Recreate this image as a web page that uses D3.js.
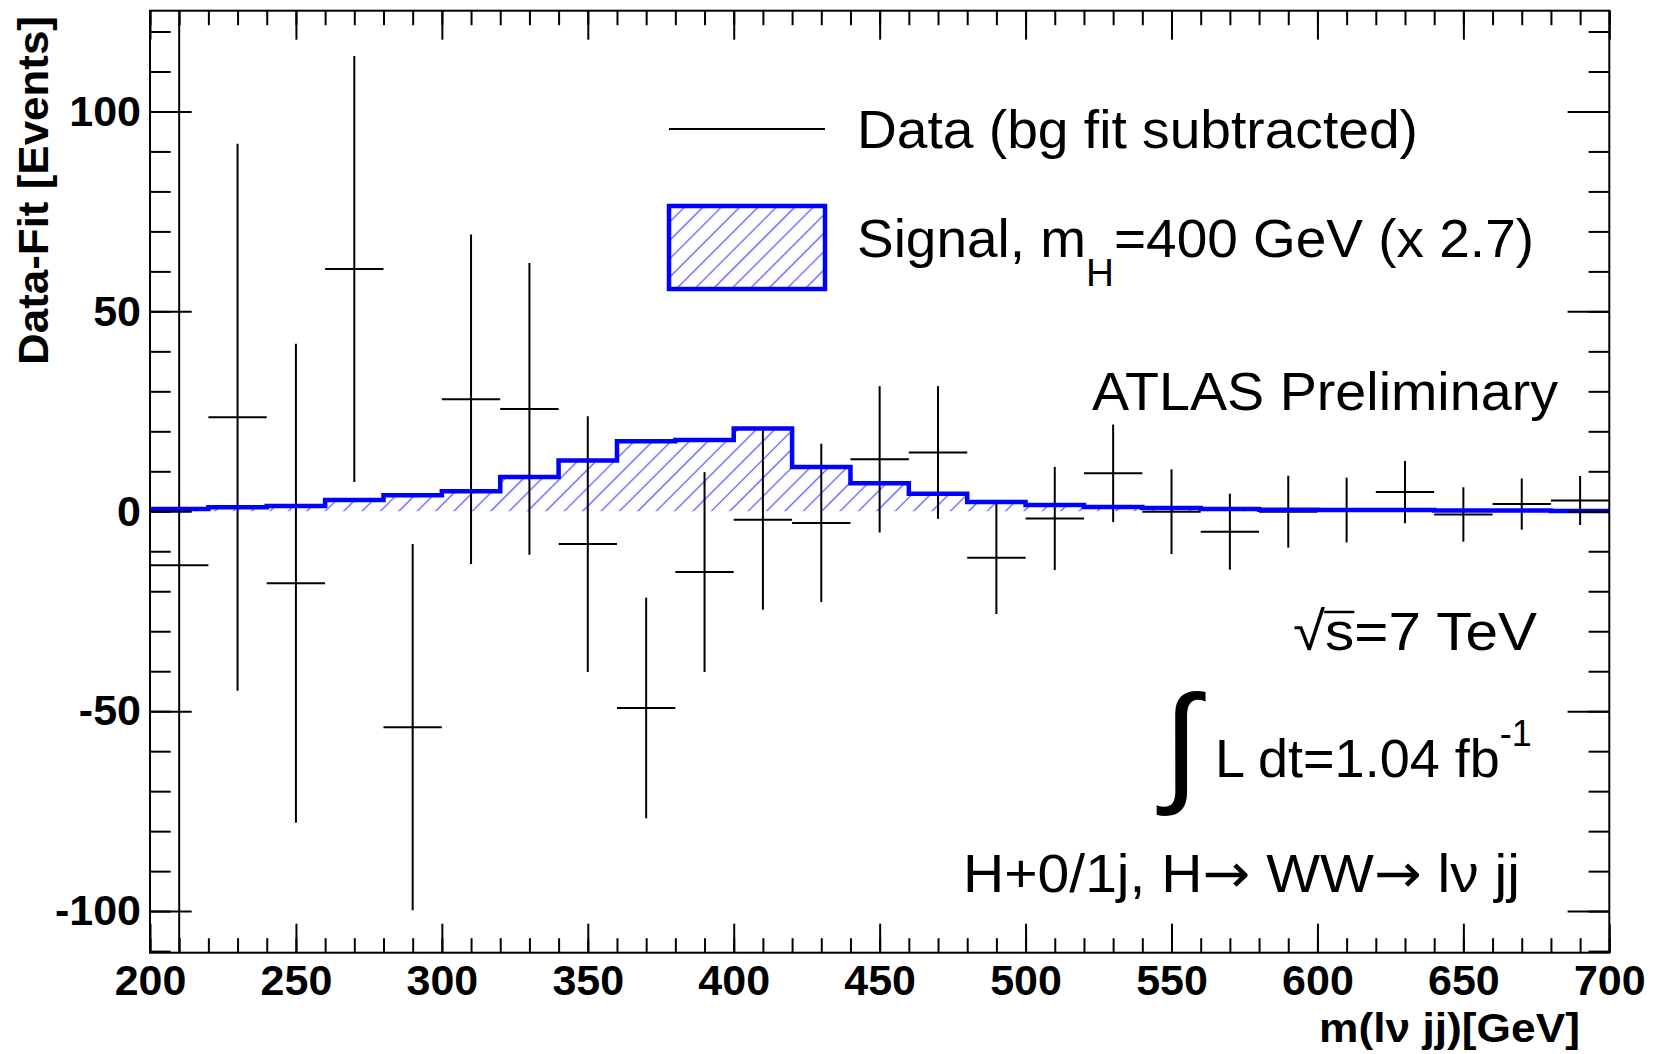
<!DOCTYPE html>
<html>
<head>
<meta charset="utf-8">
<script src="https://cdn.jsdelivr.net/npm/d3@7"></script>
<style>
  html, body { margin: 0; padding: 0; background: #ffffff; }
  svg { display: block; }
  text { font-family: "Liberation Sans", Arial, Helvetica, sans-serif; fill: #000; }
</style>
</head>
<body>
<svg id="chart" width="1659" height="1054"></svg>
<script>
// Bin centres of the m(lv jj) distribution, 20 GeV bins from 200 to 700 GeV
const binCenters = [210, 230, 250, 270, 290, 310, 330, 350, 370, 390, 410, 430, 450,
                    470, 490, 510, 530, 550, 570, 590, 610, 630, 650, 670, 690];
// Data minus background fit, per bin
const dataValues = [-13.5, 23.5, -18.0, 60.6, -54.0, 28.0, 25.6, -8.2, -49.2, -15.2, -2.1, -2.9, 13.0,
                    14.7, -11.6, -1.8, 9.5, -0.1, -5.1, -0.1, 0.3, 4.8, -0.8, 1.8, 2.7];
// Statistical uncertainty of each bin
const dataErrors = [140, 68.4, 59.9, 53.3, 45.8, 41.2, 36.5, 32.0, 27.6, 25.0, 22.5, 19.8, 18.3,
                    16.6, 14.1, 12.9, 12.2, 10.6, 9.5, 9.0, 8.1, 7.8, 6.8, 6.4, 6.1];
// Bin edges
const binEdges = [200, 220, 240, 260, 280, 300, 320, 340, 360, 380, 400, 420, 440, 460,
                  480, 500, 520, 540, 560, 580, 600, 620, 640, 660, 680, 700];
// Expected signal for m_H = 400 GeV (scaled x 2.7), per bin
const signalValues = [0.6, 1.0, 1.3, 2.8, 4.0, 5.0, 8.6, 12.7, 17.5, 17.8, 20.7, 11.1, 7.0,
                      4.4, 2.3, 1.6, 1.1, 0.8, 0.6, 0.4, 0.3, 0.3, 0.2, 0.2, 0.1];
// Axis ticks
const xMajorTicks = [200, 250, 300, 350, 400, 450, 500, 550, 600, 650, 700];
const yMajorTicks = [-100, -50, 0, 50, 100];
const xMinorTicks = d3.range(200, 701, 10);
const yMinorTicks = d3.range(-110, 121, 10);

const svg = d3.select("#chart");
const frame = { left: 150, right: 1609.3, top: 10.7, bottom: 952.7 };

const x = d3.scaleLinear().domain([200, 700]).range([frame.left, frame.right]);
const y = d3.scaleLinear().domain([-110.4, 125.2]).range([frame.bottom, frame.top]);

const defs = svg.append("defs");
defs.append("clipPath").attr("id", "plotArea")
  .append("rect")
  .attr("x", frame.left).attr("y", frame.top)
  .attr("width", frame.right - frame.left).attr("height", frame.bottom - frame.top);

// Diagonal hatching used for the signal histogram
const hatch = defs.append("pattern")
  .attr("id", "hatch")
  .attr("patternUnits", "userSpaceOnUse")
  .attr("width", 13).attr("height", 13)
  .attr("patternTransform", "rotate(45)");
hatch.append("line")
  .attr("x1", 6.5).attr("y1", -1).attr("x2", 6.5).attr("y2", 14)
  .attr("stroke", "#5a5aff").attr("stroke-width", 1.3);

const plot = svg.append("g").attr("clip-path", "url(#plotArea)");

// Signal histogram (step shape)
const stepPoints = binEdges.map((e, i) => [e, signalValues[Math.min(i, signalValues.length - 1)]]);
const area = d3.area()
  .x(d => x(d[0])).y0(y(0)).y1(d => y(d[1]))
  .curve(d3.curveStepAfter);
const line = d3.line()
  .x(d => x(d[0])).y(d => y(d[1]))
  .curve(d3.curveStepAfter);

plot.append("path")
  .attr("d", area(stepPoints))
  .attr("fill", "url(#hatch)");

// Data points: horizontal bin-width bars and vertical error bars
const pts = plot.append("g").attr("stroke", "#000").attr("stroke-width", 2).attr("fill", "none");
binCenters.forEach((c, i) => {
  const v = dataValues[i], e = dataErrors[i];
  pts.append("line")
    .attr("x1", x(binEdges[i])).attr("x2", x(binEdges[i + 1]))
    .attr("y1", y(v)).attr("y2", y(v));
  pts.append("line")
    .attr("x1", x(c)).attr("x2", x(c))
    .attr("y1", y(v - e)).attr("y2", y(v + e));
});

plot.append("path")
  .attr("d", line(stepPoints))
  .attr("fill", "none")
  .attr("stroke", "#0000ff")
  .attr("stroke-width", 4.5);

// Axes: ticks point inward, on all four sides
function styleAxis(g) {
  g.select(".domain").remove();
  g.selectAll(".tick line").attr("stroke", "#000").attr("stroke-width", 2);
}
const tickFont = g => g.selectAll("text")
  .attr("font-size", 43).attr("font-weight", "bold")
  .attr("font-family", "'Liberation Sans', Arial, Helvetica, sans-serif")
  .attr("fill", "#000");
const plainNumber = d => String(d);

svg.append("g")
  .attr("transform", `translate(0,${frame.bottom})`)
  .call(d3.axisBottom(x).tickValues(xMinorTicks).tickSize(-14.5).tickFormat(""))
  .call(styleAxis);
svg.append("g")
  .attr("transform", `translate(0,${frame.bottom})`)
  .call(d3.axisBottom(x).tickValues(xMajorTicks).tickSize(-29).tickPadding(12).tickFormat(plainNumber))
  .call(styleAxis).call(tickFont);
svg.append("g")
  .attr("transform", `translate(0,${frame.top})`)
  .call(d3.axisTop(x).tickValues(xMinorTicks).tickSize(-14.5).tickFormat(""))
  .call(styleAxis);
svg.append("g")
  .attr("transform", `translate(0,${frame.top})`)
  .call(d3.axisTop(x).tickValues(xMajorTicks).tickSize(-29).tickFormat(""))
  .call(styleAxis);

svg.append("g")
  .attr("transform", `translate(${frame.left},0)`)
  .call(d3.axisLeft(y).tickValues(yMinorTicks).tickSize(-20.7).tickFormat(""))
  .call(styleAxis);
svg.append("g")
  .attr("transform", `translate(${frame.left},0)`)
  .call(d3.axisLeft(y).tickValues(yMajorTicks).tickSize(-41.7).tickPadding(9).tickFormat(plainNumber))
  .call(styleAxis).call(tickFont);
svg.append("g")
  .attr("transform", `translate(${frame.right},0)`)
  .call(d3.axisRight(y).tickValues(yMinorTicks).tickSize(-20.7).tickFormat(""))
  .call(styleAxis);
svg.append("g")
  .attr("transform", `translate(${frame.right},0)`)
  .call(d3.axisRight(y).tickValues(yMajorTicks).tickSize(-41.7).tickFormat(""))
  .call(styleAxis);

// Frame
svg.append("rect")
  .attr("x", frame.left).attr("y", frame.top)
  .attr("width", frame.right - frame.left).attr("height", frame.bottom - frame.top)
  .attr("fill", "none").attr("stroke", "#000").attr("stroke-width", 2);

// Axis titles
svg.append("text")
  .attr("x", 1580).attr("y", 1042)
  .attr("text-anchor", "end")
  .attr("font-size", 40).attr("font-weight", "bold")
  .attr("textLength", 261).attr("lengthAdjust", "spacingAndGlyphs")
  .text("m(lν jj)[GeV]");

svg.append("text")
  .attr("transform", "translate(48,16) rotate(-90)")
  .attr("text-anchor", "end")
  .attr("font-size", 42).attr("font-weight", "bold")
  .attr("textLength", 349).attr("lengthAdjust", "spacingAndGlyphs")
  .text("Data-Fit [Events]");

// Legend
svg.append("line")
  .attr("x1", 669).attr("x2", 825).attr("y1", 129).attr("y2", 129)
  .attr("stroke", "#000").attr("stroke-width", 2);
svg.append("text")
  .attr("x", 857).attr("y", 148)
  .attr("font-size", 54)
  .attr("textLength", 561).attr("lengthAdjust", "spacingAndGlyphs")
  .text("Data (bg fit subtracted)");

svg.append("rect")
  .attr("x", 669).attr("y", 206).attr("width", 156).attr("height", 83)
  .attr("fill", "url(#hatch)")
  .attr("stroke", "#0000ff").attr("stroke-width", 4.5);
const sigLabel = svg.append("text")
  .attr("x", 857).attr("y", 257)
  .attr("font-size", 54)
  .attr("textLength", 677).attr("lengthAdjust", "spacingAndGlyphs");
sigLabel.append("tspan").text("Signal, m");
sigLabel.append("tspan").attr("font-size", 38).attr("dy", 29).text("H");
sigLabel.append("tspan").attr("dy", -29).text("=400 GeV (x 2.7)");

// Plot annotations
svg.append("text")
  .attr("x", 1092).attr("y", 410)
  .attr("font-size", 54)
  .attr("textLength", 466).attr("lengthAdjust", "spacingAndGlyphs")
  .text("ATLAS Preliminary");

const sqrtLabel = svg.append("text")
  .attr("x", 1293).attr("y", 650)
  .attr("font-size", 54)
  .attr("textLength", 244).attr("lengthAdjust", "spacingAndGlyphs")
  .text("√s=7 TeV");
{
  const node = sqrtLabel.node();
  const s0 = node.getStartPositionOfChar(1).x;
  const s1 = node.getEndPositionOfChar(1).x;
  const r0 = node.getEndPositionOfChar(0).x;
  svg.append("line")
    .attr("x1", Math.min(r0, s0) - 1).attr("x2", s1)
    .attr("y1", 612).attr("y2", 612)
    .attr("stroke", "#000").attr("stroke-width", 2.5);
}

svg.append("text")
  .attr("x", 1163).attr("y", 788)
  .attr("font-family", "'DejaVu Sans', sans-serif")
  .attr("font-size", 132)
  .text("∫");
const lumi = svg.append("text")
  .attr("x", 1215).attr("y", 777)
  .attr("font-size", 54);
lumi.append("tspan").text("L dt=1.04 fb");
lumi.append("tspan").attr("font-size", 36).attr("dy", -31).text("-1");

const decay = svg.append("text")
  .attr("x", 963).attr("y", 892)
  .attr("font-size", 54)
  .attr("textLength", 557).attr("lengthAdjust", "spacingAndGlyphs");
decay.append("tspan").text("H+0/1j, H");
decay.append("tspan").attr("font-family", "'DejaVu Sans', sans-serif").text("→");
decay.append("tspan").text(" WW");
decay.append("tspan").attr("font-family", "'DejaVu Sans', sans-serif").text("→");
decay.append("tspan").text(" lν jj");
</script>
</body>
</html>
